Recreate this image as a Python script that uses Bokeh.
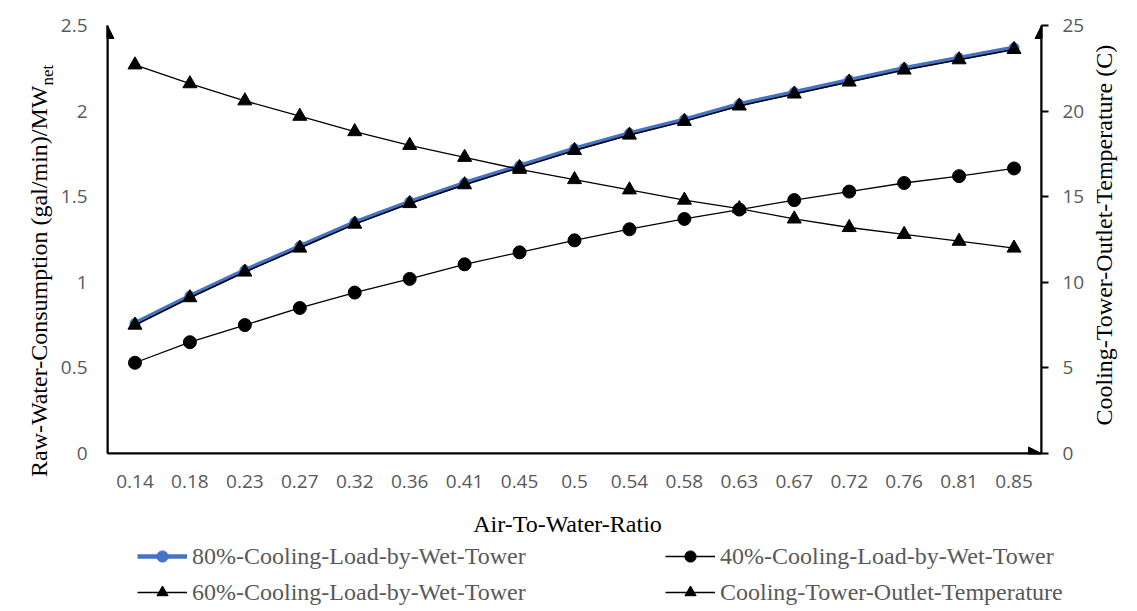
import math
from bokeh.plotting import figure
from bokeh.layouts import row, column
from bokeh.models import (FactorRange, Range1d, LinearAxis, FixedTicker, CustomJSTickFormatter,
                          Legend, LegendItem, Label, Arrow, NormalHead)
from bokeh.embed import file_html
from bokeh.resources import INLINE

# ---------------- data ----------------
ratios = ["0.14", "0.18", "0.23", "0.27", "0.32", "0.36", "0.41", "0.45", "0.5",
          "0.54", "0.58", "0.63", "0.67", "0.72", "0.76", "0.81", "0.85"]
load80 = [0.76, 0.92, 1.07, 1.21, 1.35, 1.47, 1.58, 1.68, 1.78, 1.87, 1.95, 2.04,
          2.11, 2.18, 2.25, 2.31, 2.37]
load60 = [0.75, 0.91, 1.06, 1.20, 1.34, 1.46, 1.57, 1.67, 1.77, 1.86, 1.94, 2.03,
          2.10, 2.17, 2.24, 2.30, 2.36]
load40 = [0.53, 0.65, 0.75, 0.85, 0.94, 1.02, 1.105, 1.175, 1.245, 1.31, 1.37, 1.425,
          1.48, 1.53, 1.58, 1.62, 1.665]
outlet_temp = [22.7, 21.6, 20.6, 19.7, 18.8, 18.0, 17.3, 16.6, 16.0, 15.4, 14.8, 14.3,
               13.7, 13.2, 12.8, 12.4, 12.0]
left_ticks = [0, 0.5, 1, 1.5, 2, 2.5]
right_ticks = [0, 5, 10, 15, 20, 25]

x_title = "Air-To-Water-Ratio"
y_title = "Raw-Water-Consumption (gal/min)/MW"
y_title_sub = "net"
y2_title = "Cooling-Tower-Outlet-Temperature (C)"
names = ["80%-Cooling-Load-by-Wet-Tower", "60%-Cooling-Load-by-Wet-Tower",
         "40%-Cooling-Load-by-Wet-Tower", "Cooling-Tower-Outlet-Temperature"]

BLUE = "#4472C4"
GRAY = "#595959"
TICK_FONT = "Open Sans"
SERIF = "Liberation Serif"

# ---------------- layout (pixels) ----------------
L_W, M_W, R_W = 56, 1034, 47
TOP_H, BOT_H = 500, 111
Y_MAX, T_MAX = 2.5, 25

# series styles: (values, range, line colour, line width, marker, marker size, marker colour)
series = [
    (load80, "default", BLUE, 4.5, "circle", 10, BLUE),
    (load40, "default", "black", 1.3, "circle", 13, "black"),
    (load60, "default", "black", 1.5, "triangle", 14, "black"),
    (outlet_temp, "temp", "black", 1.3, "triangle", 14, "black"),
]

# ---------------- main chart ----------------
p = figure(width=M_W, height=TOP_H, x_range=FactorRange(factors=ratios),
           y_range=Range1d(0, Y_MAX), output_backend="svg", toolbar_location=None,
           min_border_left=51, min_border_right=49, min_border_top=25, min_border_bottom=47)
p.extra_y_ranges = {"temp": Range1d(0, T_MAX)}
p.outline_line_color = None
p.xgrid.visible = False
p.ygrid.visible = False

xa = p.xaxis[0]
xa.axis_line_width = 2
xa.axis_line_color = "black"
xa.major_tick_line_color = None
xa.minor_tick_line_color = None
xa.major_tick_out = 0
xa.major_label_standoff = 21
xa.major_label_text_font = TICK_FONT
xa.major_label_text_font_size = "19px"
xa.major_label_text_color = GRAY

ya = p.yaxis[0]
ya.ticker = FixedTicker(ticks=left_ticks)
ya.formatter = CustomJSTickFormatter(code="return String(tick);")
ya.axis_line_width = 2
ya.axis_line_color = "black"
ya.major_tick_line_color = None
ya.minor_tick_line_color = None
ya.major_tick_out = 0
ya.major_label_standoff = 20
ya.major_label_text_font = TICK_FONT
ya.major_label_text_font_size = "19px"
ya.major_label_text_color = GRAY

ra = LinearAxis(y_range_name="temp", ticker=FixedTicker(ticks=right_ticks),
                formatter=CustomJSTickFormatter(code="return String(tick);"))
ra.axis_line_width = 2
ra.axis_line_color = "black"
ra.major_tick_line_width = 2
ra.major_tick_line_color = "black"
ra.major_tick_in = 0
ra.major_tick_out = 7
ra.minor_tick_line_color = None
ra.major_label_standoff = 14
ra.major_label_text_font = TICK_FONT
ra.major_label_text_font_size = "19px"
ra.major_label_text_color = GRAY
p.add_layout(ra, "right")

for vals, rng, lc, lw, mk, ms, mc in series:
    kw = {} if rng == "default" else {"y_range_name": rng}
    p.line(ratios, vals, line_color=lc, line_width=lw, **kw)
    p.scatter(ratios, vals, marker=mk, size=ms, fill_color=mc, line_color=mc, **kw)

# axis arrow heads
n = len(ratios)
for xs, ys, xe, ye in [(0, 0, 0, Y_MAX), (n, 0, n, Y_MAX), (0, 0, n, 0)]:
    p.add_layout(Arrow(x_start=xs, y_start=ys, x_end=xe, y_end=ye, line_width=2, line_color="black",
                       end=NormalHead(size=13, fill_color="black", line_color="black")))


def strip(w, h):
    f = figure(width=w, height=h, x_axis_type=None, y_axis_type=None, min_border=0,
               toolbar_location=None, output_backend="svg",
               x_range=FactorRange(factors=ratios), y_range=Range1d(0, Y_MAX))
    f.outline_line_color = None
    return f


# ---------------- left strip (full height): y title ----------------
left = strip(L_W, TOP_H + BOT_H)
left.add_layout(Label(x=38, y=526, x_units="screen", y_units="screen", text=y_title,
                      angle=math.pi / 2, text_align="right", text_baseline="alphabetic",
                      text_font=SERIF, text_font_size="24px", text_color="black"))
left.add_layout(Label(x=47, y=526, x_units="screen", y_units="screen", text=y_title_sub,
                      angle=math.pi / 2, text_align="left", text_baseline="alphabetic",
                      text_font=SERIF, text_font_size="17px", text_color="black"))

# ---------------- right strip: secondary y title ----------------
right = strip(R_W, TOP_H)
right.add_layout(Label(x=13, y=28, x_units="screen", y_units="screen", text=y2_title,
                       angle=math.pi / 2, text_align="left", text_baseline="alphabetic",
                       text_font=SERIF, text_font_size="24px", text_color="black"))

# ---------------- bottom strip: x title + legend ----------------
bottom = strip(M_W + R_W, BOT_H)
bottom.add_layout(Label(x=511, y=88, x_units="screen", y_units="screen", text=x_title,
                        text_align="center", text_baseline="alphabetic",
                        text_font=SERIF, text_font_size="24px", text_color="black"))
keys = []
for vals, rng, lc, lw, mk, ms, mc in series:
    kl = bottom.line(ratios, vals, line_color=lc, line_width=lw, visible=False)
    ks = bottom.scatter(ratios, vals, marker=mk, size=ms, fill_color=mc, line_color=mc, visible=False)
    keys.append([kl, ks])
# keys order: 80, 40, 60, temp ; names order: 80, 60, 40, temp
for items, vx in [([LegendItem(label=names[0], renderers=keys[0]),
                    LegendItem(label=names[1], renderers=keys[2])], 81),
                  ([LegendItem(label=names[2], renderers=keys[1]),
                    LegendItem(label=names[3], renderers=keys[3])], 609)]:
    bottom.add_layout(Legend(items=items, location=(vx, 5), orientation="vertical",
                             glyph_width=50, glyph_height=28, label_standoff=5, spacing=8,
                             padding=0, margin=0, border_line_color=None,
                             background_fill_alpha=0, inactive_fill_alpha=0,
                             label_text_font=SERIF, label_text_font_size="24px",
                             label_text_color=GRAY))

layout = row(left, column(row(p, right), bottom))
open("out.html", "w").write(file_html(layout, INLINE))
